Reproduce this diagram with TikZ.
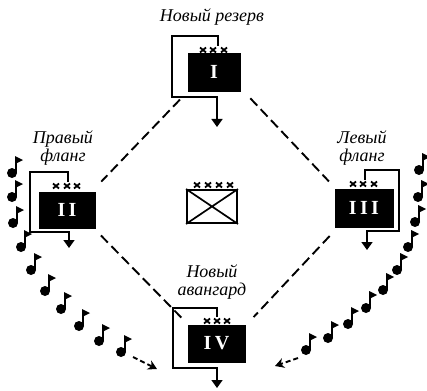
\documentclass[tikz,border=0pt]{standalone}
\usepackage{fontspec}
\setmainfont{Liberation Serif}
\usetikzlibrary{arrows.meta}
\begin{document}
\begin{tikzpicture}[x=1pt,y=-1pt,
  unit/.style={fill=black, draw=black, inner sep=0pt, text=white, font=\bfseries\fontsize{20}{20}\selectfont},
  lbl/.style={font=\itshape\fontsize{18}{18}\selectfont, align=center, inner sep=0pt},
  brk/.style={line width=1.6pt, -{Triangle[width=11pt,length=8pt]}},
  dsh/.style={line width=1.9pt, dash pattern=on 10pt off 5pt},
  march/.style={line width=1.9pt, dash pattern=on 5pt off 3pt, -{Stealth[length=9pt,width=10pt]}},
  flagdot/.pic={\fill (0,0) circle (5); \draw[line width=1.9pt] (3.6,0) -- (3.6,-16); \fill (3,-17) -- (11,-13) -- (3,-9) -- cycle;},
  xm/.pic={\draw[line width=1.8pt] (-3,-2.5) -- (3,2.5) (-3,2.5) -- (3,-2.5);}
]
\useasboundingbox (0,0) rectangle (427,390);
% units
\node[unit, minimum width=52pt, minimum height=38pt] (u1) at (214,72) {I};
\node[unit, minimum width=56pt, minimum height=36pt] (u2) at (67,210) {I\,I};
\node[unit, minimum width=58pt, minimum height=38pt] (u3) at (364,208) {I\,I\,I};
\node[unit, minimum width=57pt, minimum height=37pt] (u4) at (216.5,343.5) {I\,V};
\node[draw, line width=1.9pt, minimum width=50pt, minimum height=33pt, inner sep=0pt] (hq) at (212,206.5) {};
\draw[line width=1.7pt] (hq.north west) -- (hq.south east) (hq.north east) -- (hq.south west);
% labels
\node[lbl] (t1) at (212,17) {Новый резерв};
\node[lbl] (t2) at (63,148) {Правый\\фланг};
\node[lbl] (t3) at (362,148) {Левый\\фланг};
\node[lbl] (t4) at (212,282) {Новый\\авангард};
% crosses
\foreach \x in {203,213,224} \pic at (\x,50) {xm};
\foreach \x in {56,67,77} \pic at (\x,186) {xm};
\foreach \x in {353,363,374} \pic at (\x,184) {xm};
\foreach \x in {207,217,227} \pic at (\x,321) {xm};
\foreach \x in {197,208,219,230} \pic at (\x,185) {xm};
% manoeuvre brackets
\coordinate (s1) at (218,46); \coordinate (e1) at (217,127);
\coordinate (s2) at (68,182); \coordinate (e2) at (69,248);
\coordinate (s3) at (365,180); \coordinate (e3) at (367,250);
\coordinate (s4) at (217,317); \coordinate (e4) at (217,388);
\draw[brk] (s1) -- (218,36) -- (172,36) -- (172,97) -- (217,97) -- (e1);
\draw[brk] (s2) -- (68,172) -- (30,172) -- (30,232) -- (69,232) -- (e2);
\draw[brk] (s3) -- (365,170) -- (399,170) -- (399,231) -- (367,231) -- (e3);
\draw[brk] (s4) -- (217,308) -- (173,308) -- (173,368) -- (217,368) -- (e4);
% dashed diamond
\coordinate (T) at (216,62); \coordinate (L) at (75,209);
\coordinate (R) at (355,209); \coordinate (B) at (218,355);
\draw[dsh, shorten <=52pt, shorten >=38pt] (T) -- (L);
\draw[dsh, shorten <=50pt, shorten >=38pt] (T) -- (R);
\draw[dsh, shorten <=37pt, shorten >=52pt] (L) -- (B);
\draw[dsh, shorten <=37pt, shorten >=52pt] (R) -- (B);
% flags
\foreach \p in {(12,173),(12,197),(13,223),(21,247),(31,270),(45,291),(61,309),(79,326),(99,341),(121,352)} \pic at \p {flagdot};
\foreach \p in {(419,170),(418,197),(415,222),(408,247),(397,270),(383,290),(366,308),(348,324),(328,338),(306,350)} \pic at \p {flagdot};
\coordinate (ml1) at (133,357); \coordinate (ml2) at (157,369);
\coordinate (mr1) at (298,358); \coordinate (mr2) at (275,366);
\draw[march] (ml1) -- (ml2);
\draw[march] (mr1) -- (mr2);
\end{tikzpicture}
\end{document}
